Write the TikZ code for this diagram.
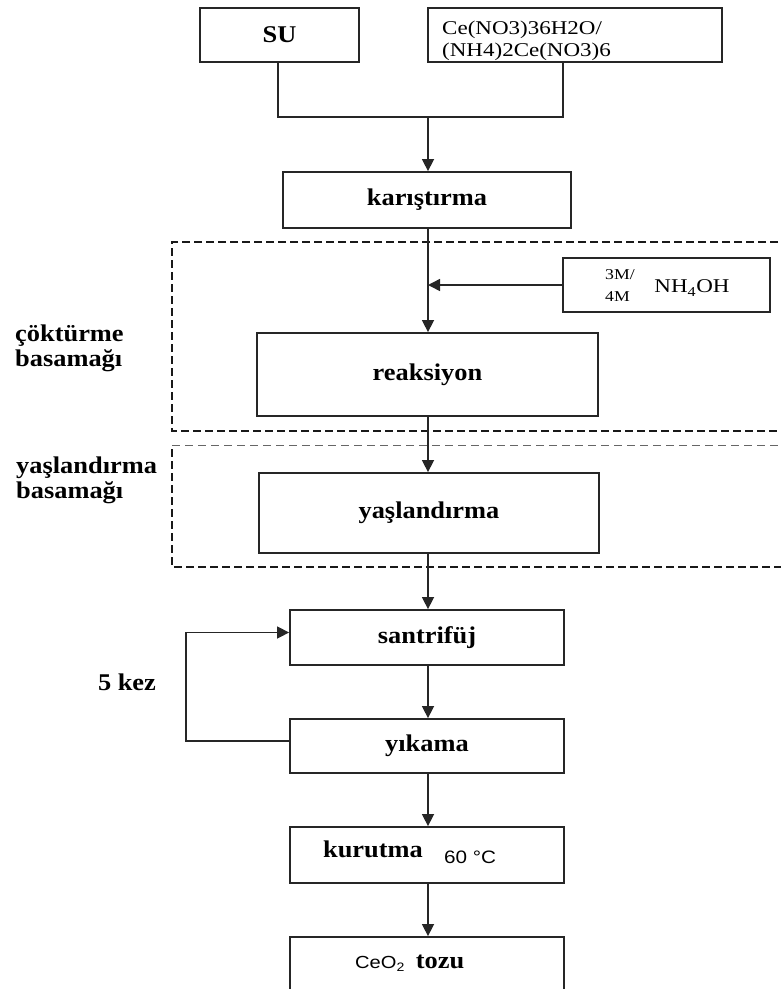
\documentclass[tikz,border=0pt]{standalone}
\usepackage{fontspec}
\setmainfont{Liberation Serif}
\newfontfamily\bfont[FakeStretch=1.1]{Liberation Serif}
\newfontfamily\regfont[FakeStretch=1.18]{Liberation Serif}
\newfontfamily\sansfont[FakeStretch=1.15]{Liberation Sans}
\usetikzlibrary{arrows.meta}
\begin{document}
\begin{tikzpicture}[x=1pt,y=-1pt,
  box/.style={draw=black!85,line width=1.8pt,rectangle,inner sep=0pt,
    font=\bfont\bfseries\fontsize{24}{26}\selectfont},
  lbl/.style={inner sep=0pt,font=\bfont\bfseries\fontsize{24}{25}\selectfont},
  conn/.style={draw=black!85,line width=1.5pt},
  arr/.style={conn,-{Triangle[length=12pt,width=12pt]}},
  dbox/.style={draw=black!90,line width=2.4pt,dash pattern=on 8pt off 4pt},
  thindash/.style={draw=black!60,line width=1pt,dash pattern=on 8pt off 5pt}]
\useasboundingbox (0,0) rectangle (781,989);
\clip (0,0) rectangle (781,989);
% boxes
\node[box,minimum width=159pt,minimum height=54pt] (su) at (279.5,35) {SU};
\node[box,minimum width=294pt,minimum height=54pt] (ce) at (575,35) {};
\node[inner sep=0pt,anchor=west,align=left,font=\regfont\fontsize{19.5}{21.5}\selectfont] (cetxt) at (442,41)
  {Ce(NO3)36H2O/\\(NH4)2Ce(NO3)6};
\node[box,minimum width=288pt,minimum height=56pt] (kar) at (427,200) {karıştırma};
\node[box,minimum width=207pt,minimum height=54pt] (nh) at (666.5,285) {};
\node[box,minimum width=341pt,minimum height=83pt] (rea) at (427.5,374.5) {reaksiyon};
\node[box,minimum width=340pt,minimum height=80pt] (yas) at (429,513) {yaşlandırma};
\node[box,minimum width=274pt,minimum height=55pt] (san) at (427,637.5) {santrifüj};
\node[box,minimum width=274pt,minimum height=54pt] (yik) at (427,746) {yıkama};
\node[box,minimum width=274pt,minimum height=56pt] (kur) at (427,855) {};
\node[box,minimum width=274pt,minimum height=70pt] (ceo) at (427,972) {};
% texts inside
\node[inner sep=0pt,anchor=west,font=\regfont\fontsize{15}{16}\selectfont] (m3) at (605,275) {3M/};
\node[inner sep=0pt,anchor=west,font=\regfont\fontsize{15}{16}\selectfont] (m4) at (605,297) {4M};
\node[inner sep=0pt,font=\regfont\fontsize{19.5}{21}\selectfont] (nhtxt) at (692,288) {NH\textsubscript{4}OH};
\node[lbl] (kurtxt) at (373,849) {kurutma};
\node[inner sep=0pt,font=\sansfont\fontsize{18}{19}\selectfont] (temp) at (470,857) {60 °C};
\node[inner sep=0pt,font=\sansfont\fontsize{17.5}{18}\selectfont] (ceo2) at (380,964) {CeO\textsubscript{2}};
\node[lbl] (tozu) at (440,962) {tozu};
% side labels
\node[lbl,anchor=west,align=left] (cok) at (15,348) {çöktürme\\basamağı};
\node[lbl,anchor=west,align=left] (yasl) at (16,480) {yaşlandırma\\basamağı};
\node[lbl] (kez) at (127,682) {5 kez};
% dashed groups
\draw[dbox] (790,242) -- (172,242) -- (172,431) -- (790,431);
\draw[thindash] (172,445) -- (790,445);
\draw[dbox] (172,449) -- (172,567) -- (790,567);
% connectors
\coordinate (j) at (428,117);
\draw[conn] (su.south -| 278,0) -- (278,117) -- (563,117) -- (ce.south -| 563,0);
\draw[arr] (j) -- (j |- kar.north);
\draw[arr] (kar.south -| j) -- (rea.north -| j);
\draw[arr] (nh.west) -- (nh.west -| j);
\draw[arr] (rea.south -| j) -- (yas.north -| j);
\draw[arr] (yas.south -| j) -- (san.north -| j);
\draw[arr] (san.south -| j) -- (yik.north -| j);
\draw[arr] (yik.south -| j) -- (kur.north -| j);
\draw[arr] (kur.south -| j) -- (ceo.north -| j);
\draw[arr] ([yshift=5pt]yik.west) -- ++(-103,0) |- ([yshift=5pt]san.west);
\end{tikzpicture}
\end{document}
